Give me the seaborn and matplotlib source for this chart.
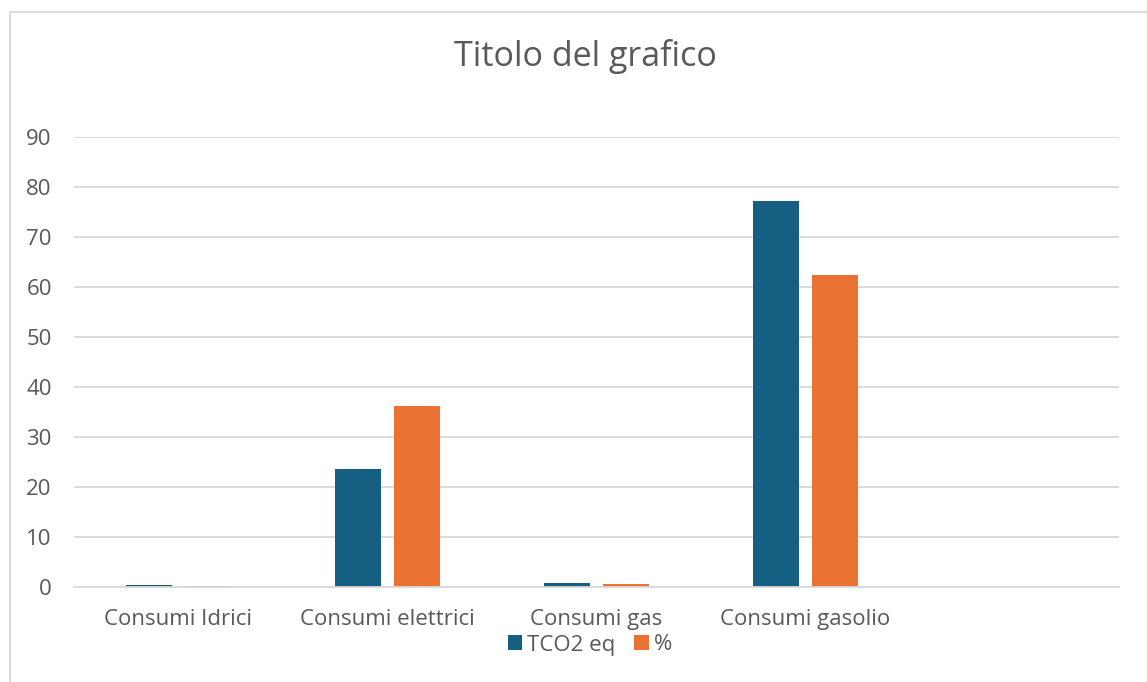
import numpy as np
import pandas as pd
import seaborn as sns
import matplotlib.pyplot as plt
from matplotlib.patches import Rectangle, Patch

# dati
categorie = ["Consumi Idrici", "Consumi elettrici", "Consumi gas", "Consumi gasolio"]
tco2_eq = [0.4, 23.6, 0.9, 77.3]
percentuale = [0.25, 36.3, 0.7, 62.4]
serie = ["TCO2 eq", "%"]
colori = ["#156082", "#E97132"]
y_ticks = [0, 10, 20, 30, 40, 50, 60, 70, 80, 90]

df = pd.DataFrame({
    "categoria": categorie * 2,
    "valore": tco2_eq + percentuale,
    "serie": [serie[0]] * len(categorie) + [serie[1]] * len(categorie),
})

sns.set_theme(style="white")
plt.rcParams['font.family'] = ['Open Sans', 'DejaVu Sans']
testo = "#595959"

W, H = 1147, 682
fig = plt.figure(figsize=(W / 100, H / 100), dpi=100)
ax = fig.add_axes([74 / W, 1 - 587 / H, (1119 - 74) / W, (587 - 137) / H])

# quinta categoria vuota come nel grafico Excel
ordine = categorie + [""]
sns.barplot(data=df, x="categoria", y="valore", hue="serie", order=ordine,
            hue_order=serie, palette=colori, saturation=1, width=0.565, gap=0.22,
            linewidth=0, ax=ax, legend=False)

ax.set_xlim(-0.5, len(ordine) - 0.5)
ax.set_ylim(0, 90)
ax.set_yticks(y_ticks)
ax.set_yticklabels([str(v) for v in y_ticks])
ax.yaxis.grid(True, color="#d9d9d9", linewidth=1.3)
ax.set_axisbelow(True)
for s in ["left", "right", "top"]:
    ax.spines[s].set_visible(False)
ax.spines["bottom"].set_color("#d9d9d9")
ax.spines["bottom"].set_linewidth(1.3)
ax.set_xlabel("")
ax.set_ylabel("")
ax.tick_params(axis="both", length=0, labelsize=16, labelcolor=testo)
ax.tick_params(axis="x", pad=16)
ax.tick_params(axis="y", pad=16)

fig.text(585 / W, 1 - 56 / H, "Titolo del grafico", ha="center", va="center",
         fontsize=24.5, color=testo)

maniglie = [Patch(facecolor=c, edgecolor="none", label=s) for s, c in zip(serie, colori)]
fig.legend(handles=maniglie, loc="center", bbox_to_anchor=(590 / W, 1 - 645 / H),
           ncol=2, frameon=False, fontsize=16, labelcolor=testo,
           handlelength=0.65, handleheight=0.65, handletextpad=0.23,
           columnspacing=0.85)

# bordo dell'area del grafico
fig.patches.append(Rectangle((10 / W, -0.1), 1.2, 1 - 12 / H + 0.1,
                             transform=fig.transFigure, fill=False,
                             edgecolor="#d9d9d9", linewidth=1.3))

fig.savefig("out.png", dpi=100, facecolor="white")
